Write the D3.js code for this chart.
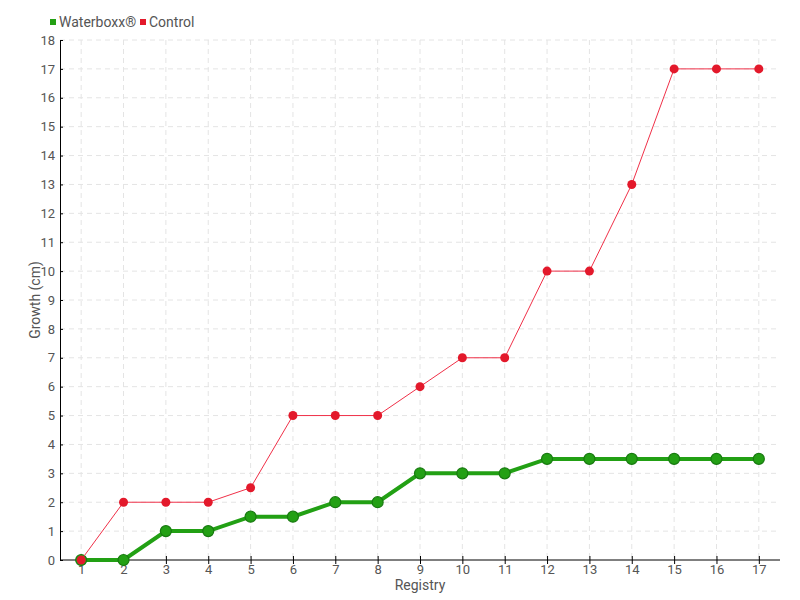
<!DOCTYPE html>
<html>
<head>
<meta charset="utf-8">
<script src="https://cdn.jsdelivr.net/npm/d3@7"></script>
<style>
  body { margin: 0; background: #fff; }
  svg text { font-family: Roboto, "DejaVu Sans", sans-serif; fill: #555; }
</style>
</head>
<body>
<svg width="800" height="600"></svg>
<script>
// Data
var registry = [1, 2, 3, 4, 5, 6, 7, 8, 9, 10, 11, 12, 13, 14, 15, 16, 17];
var waterboxx = [0, 0, 1, 1, 1.5, 1.5, 2, 2, 3, 3, 3, 3.5, 3.5, 3.5, 3.5, 3.5, 3.5];
var control = [0, 2, 2, 2, 2.5, 5, 5, 5, 6, 7, 7, 10, 10, 13, 17, 17, 17];
var yTicks = d3.range(0, 19);

var svg = d3.select("svg");
var plotLeft = 60, plotRight = 780, plotTop = 40, plotBottom = 560;

var x = d3.scalePoint()
    .domain(registry)
    .range([plotLeft, plotRight])
    .padding(0.5);
var y = d3.scaleLinear()
    .domain([0, 18])
    .range([plotBottom, plotTop]);

// grid
var grid = svg.append("g").attr("stroke", "#e4e4e4").attr("stroke-dasharray", "5,4");
grid.selectAll(".gy").data(yTicks.slice(1)).enter().append("line")
    .attr("x1", plotLeft).attr("x2", plotRight)
    .attr("y1", function (d) { return y(d); }).attr("y2", function (d) { return y(d); });
grid.selectAll(".gx").data(registry).enter().append("line")
    .attr("x1", function (d) { return x(d); }).attr("x2", function (d) { return x(d); })
    .attr("y1", plotTop).attr("y2", plotBottom);

// axes
var xAxis = svg.append("g")
    .attr("transform", "translate(0," + plotBottom + ")")
    .call(d3.axisBottom(x).tickSizeInner(4).tickSizeOuter(0).tickPadding(1));
xAxis.select(".domain").attr("d", "M" + plotLeft + ",0H" + plotRight);
xAxis.selectAll(".tick line").attr("y1", -4);
var yAxis = svg.append("g")
    .attr("transform", "translate(" + plotLeft + ",0)")
    .call(d3.axisLeft(y).tickValues(yTicks).tickSizeInner(3).tickSizeOuter(0).tickPadding(2));
yAxis.selectAll(".tick line").attr("x2", 3);
svg.selectAll(".tick text").style("font-size", "13px").style("fill", "#555");
svg.selectAll(".domain, .tick line").attr("stroke", "#000");

// axis titles
svg.append("text")
    .attr("transform", "translate(40," + ((plotTop + plotBottom) / 2) + ") rotate(-90)")
    .attr("text-anchor", "middle")
    .style("font-size", "14px")
    .text("Growth (cm)");
svg.append("text")
    .attr("x", (plotLeft + plotRight) / 2).attr("y", 590)
    .attr("text-anchor", "middle")
    .style("font-size", "14px")
    .text("Registry");

// lines
var line = d3.line()
    .x(function (d, i) { return x(registry[i]); })
    .y(function (d) { return y(d); });

svg.append("path").datum(waterboxx)
    .attr("d", line).attr("fill", "none")
    .attr("stroke", "#22a014").attr("stroke-width", 4);
svg.selectAll(".wdot").data(waterboxx).enter().append("circle")
    .attr("class", "wdot")
    .attr("cx", function (d, i) { return x(registry[i]); })
    .attr("cy", function (d) { return y(d); })
    .attr("r", 5.5)
    .attr("fill", "#23a014").attr("stroke", "#187a10").attr("stroke-width", 1.2);

svg.append("path").datum(control)
    .attr("d", line).attr("fill", "none")
    .attr("stroke", "#f03048").attr("stroke-width", 1);
svg.selectAll(".cdot").data(control).enter().append("circle")
    .attr("class", "cdot")
    .attr("cx", function (d, i) { return x(registry[i]); })
    .attr("cy", function (d) { return y(d); })
    .attr("r", 4.5)
    .attr("fill", "#e3192b");

// legend
var legend = [["Waterboxx®", "#23a014", 50], ["Control", "#e3192b", 140]];
legend.forEach(function (l) {
  svg.append("rect").attr("x", l[2]).attr("y", 19).attr("width", 6).attr("height", 6).attr("fill", l[1]);
  svg.append("text").attr("x", l[2] + 9).attr("y", 27).style("font-size", "14px").text(l[0]);
});
</script>
</body>
</html>
